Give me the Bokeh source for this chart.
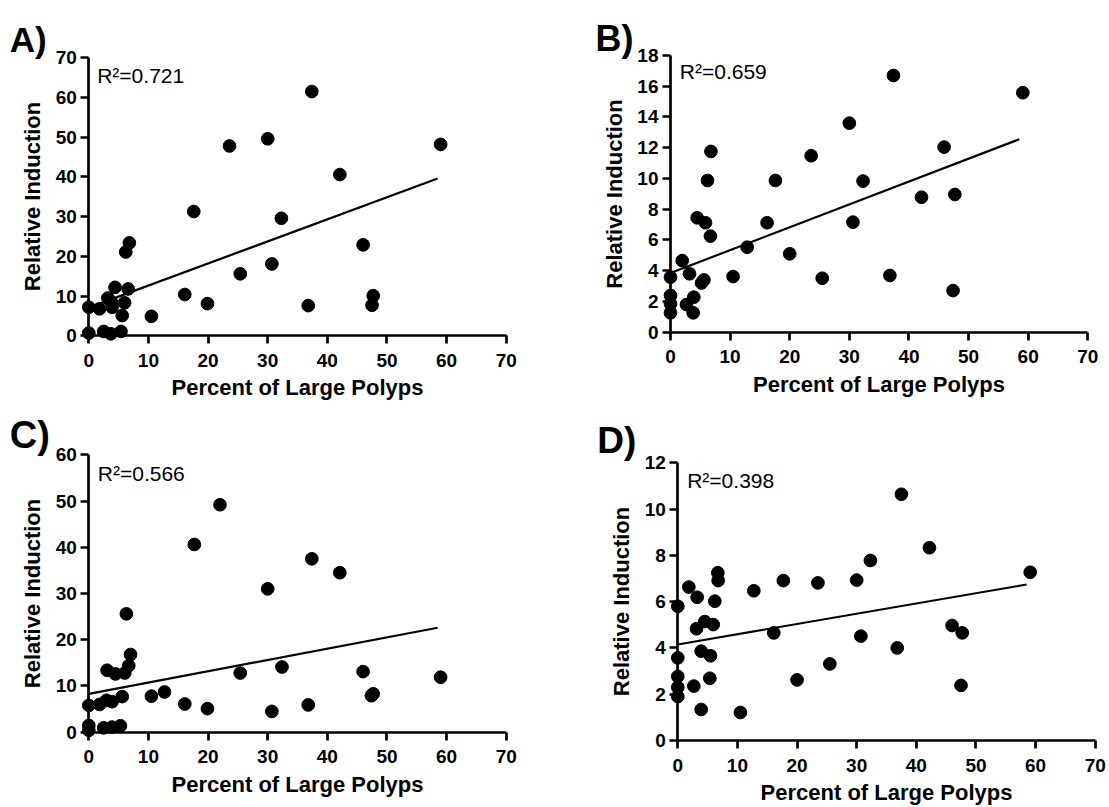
from bokeh.plotting import figure
from bokeh.layouts import column, row
from bokeh.models import Range1d, Label
from bokeh.embed import file_html
from bokeh.resources import INLINE

# ---------------- data ----------------
x_ticks = [0, 10, 20, 30, 40, 50, 60, 70]
x_title = "Percent of Large Polyps"
y_title = "Relative Induction"

# Panel A
a_x = [0, 0, 1.8, 3.2, 2.5, 3.8, 3.9, 3.7, 4.4, 5.4, 5.6, 6.0, 6.6, 6.2, 6.8, 10.5,
       16.1, 17.6, 19.9, 23.6, 25.4, 30.0, 30.7, 32.3, 37.4, 36.8, 42.1, 46.0, 47.7, 47.5, 59.0]
a_y = [7.2, 0.7, 6.8, 9.5, 1.1, 8.5, 7.2, 0.5, 12.2, 1.1, 5.1, 8.3, 11.8, 21.1, 23.4, 4.9,
       10.4, 31.3, 8.1, 47.8, 15.6, 49.6, 18.1, 29.6, 61.5, 7.6, 40.6, 22.9, 10.1, 7.7, 48.2]
a_fit_x = [0, 58.5]
a_fit_y = [7.1, 39.6]
a_y_ticks = [0, 10, 20, 30, 40, 50, 60, 70]
a_r2 = "R²=0.721"
a_letter = "A)"

# Panel B
b_x = [0, 0, 0, 0, 1.96, 2.68, 3.19, 3.91, 3.8, 4.47, 5.87, 5.2, 5.6, 6.21, 6.78, 6.7,
       10.5, 12.86, 16.2, 17.6, 20.0, 23.6, 25.45, 30.0, 30.6, 32.3, 36.8, 37.4, 42.1,
       45.9, 47.7, 47.4, 59.1]
b_y = [3.58, 2.39, 1.85, 1.26, 4.66, 1.80, 3.8, 2.28, 1.26, 7.44, 7.12, 3.2, 3.4, 9.87,
       11.76, 6.25, 3.62, 5.53, 7.12, 9.87, 5.1, 11.48, 3.51, 13.6, 7.16, 9.83, 3.69, 16.7,
       8.78, 12.04, 8.96, 2.71, 15.58]
b_fit_x = [0, 58.5]
b_fit_y = [3.85, 12.55]
b_y_ticks = [0, 2, 4, 6, 8, 10, 12, 14, 16, 18]
b_r2 = "R²=0.659"
b_letter = "B)"

# Panel C
c_x = [0, 0, 0, 1.8, 2.97, 3.07, 2.5, 3.9, 3.9, 4.47, 5.3, 5.6, 6.03, 6.3, 6.7, 7.0,
       10.5, 12.7, 16.1, 17.7, 19.9, 22.0, 25.4, 30.0, 30.7, 32.4, 37.4, 42.1, 36.8, 46.0,
       47.4, 47.7, 59.0]
c_y = [5.8, 1.45, 0.4, 6.0, 6.9, 13.4, 0.95, 6.6, 1.1, 12.6, 1.4, 7.7, 12.8, 25.6, 14.4,
       16.8, 7.8, 8.7, 6.1, 40.6, 5.1, 49.2, 12.8, 31.0, 4.5, 14.1, 37.5, 34.5, 5.9, 13.1,
       7.9, 8.3, 11.9]
c_fit_x = [0, 58.5]
c_fit_y = [8.3, 22.6]
c_y_ticks = [0, 10, 20, 30, 40, 50, 60]
c_r2 = "R²=0.566"
c_letter = "C)"

# Panel D
d_x = [0, 0, 0, 0, 0, 1.85, 3.25, 3.14, 2.69, 3.92, 3.92, 4.53, 5.49, 5.37, 5.94, 6.21,
       6.71, 6.77, 10.5, 12.75, 16.1, 17.7, 20.0, 23.5, 25.5, 30.0, 30.7, 32.3, 36.8, 37.5,
       42.2, 46.0, 47.7, 47.5, 59.1]
d_y = [5.8, 3.57, 2.77, 2.3, 1.9, 6.63, 6.19, 4.83, 2.35, 3.86, 1.34, 5.14, 3.66, 2.69,
       5.01, 6.02, 7.25, 6.91, 1.21, 6.47, 4.65, 6.91, 2.62, 6.81, 3.31, 6.93, 4.51, 7.78,
       4.0, 10.64, 8.33, 4.97, 4.65, 2.38, 7.27]
d_fit_x = [0, 58.5]
d_fit_y = [4.15, 6.74]
d_y_ticks = [0, 2, 4, 6, 8, 10, 12]
d_r2 = "R²=0.398"
d_letter = "D)"

FONT = "Liberation Sans"


def make_panel(xs, ys, fx, fy, yticks, r2, letter,
               fig_box, axis_px, letter_pos, letter_size, r2_pos):
    # the frame covers the whole canvas; axes are drawn at data 0 inside it
    fx0, fy0, fx1, fy1 = fig_box
    x0px, x70px, y0px, ytop_px = axis_px
    kx = (x70px - x0px) / x_ticks[-1]
    ky = (y0px - ytop_px) / yticks[-1]
    xr = Range1d((fx0 - x0px) / kx, (fx1 - x0px) / kx)
    yr = Range1d((y0px - fy1) / ky, (y0px - fy0) / ky)

    p = figure(width=fx1 - fx0, height=fy1 - fy0, x_range=xr, y_range=yr,
               min_border_left=0, min_border_right=0,
               min_border_top=0, min_border_bottom=0,
               output_backend="svg", toolbar_location=None)
    p.title.visible = False
    p.outline_line_color = None
    p.xgrid.visible = False
    p.ygrid.visible = False
    p.background_fill_color = "white"
    p.border_fill_color = "white"

    p.line(fx, fy, line_color="black", line_width=2.2)
    p.scatter(xs, ys, size=12.7, fill_color="black", line_color="black")

    p.xaxis.ticker = x_ticks
    p.yaxis.ticker = yticks
    p.xaxis.bounds = (0, x_ticks[-1])
    p.yaxis.bounds = (0, yticks[-1])
    p.xaxis.axis_label = x_title
    p.yaxis.axis_label = y_title
    for ax in (p.xaxis[0], p.yaxis[0]):
        ax.fixed_location = 0
        ax.axis_line_width = 2.7
        ax.axis_line_color = "black"
        ax.major_tick_line_width = 2.7
        ax.major_tick_line_color = "black"
        ax.major_tick_out = 8
        ax.major_tick_in = 0
        ax.minor_tick_out = 0
        ax.minor_tick_in = 0
        ax.major_label_text_font = FONT
        ax.major_label_text_font_size = "19px"
        ax.major_label_text_font_style = "bold"
        ax.major_label_text_color = "black"
        ax.axis_label_text_font = FONT
        ax.axis_label_text_font_size = "22px"
        ax.axis_label_text_font_style = "bold"
        ax.axis_label_text_color = "black"
    p.xaxis.major_label_standoff = 10
    p.yaxis.major_label_standoff = 4
    p.xaxis.axis_label_standoff = 5
    p.yaxis.axis_label_standoff = 7

    def dx(px):
        return (px - x0px) / kx

    def dy(py):
        return (y0px - py) / ky

    p.add_layout(Label(x=dx(letter_pos[0]), y=dy(letter_pos[1]), text=letter,
                       text_font=FONT, text_font_style="bold",
                       text_font_size=f"{letter_size}px", text_color="black",
                       text_baseline="alphabetic", text_align="left"))
    p.add_layout(Label(x=dx(r2_pos[0]), y=dy(r2_pos[1]), text=r2,
                       text_font=FONT, text_font_size="21px", text_color="black",
                       text_baseline="alphabetic", text_align="left"))
    return p


pA = make_panel(a_x, a_y, a_fit_x, a_fit_y, a_y_ticks, a_r2, a_letter,
                (0, 0, 560, 404), (88.3, 505.7, 335.3, 57.3),
                (9.3, 39.3), 35, (96.7, 75))
pB = make_panel(b_x, b_y, b_fit_x, b_fit_y, b_y_ticks, b_r2, b_letter,
                (560, 0, 1109, 404), (670, 1087.3, 331.7, 55),
                (595, 38.3), 36, (679.3, 71))
pC = make_panel(c_x, c_y, c_fit_x, c_fit_y, c_y_ticks, c_r2, c_letter,
                (0, 404, 560, 807), (88.3, 505.7, 731.7, 454.3),
                (9.3, 434.5), 38, (97.3, 472.7))
pD = make_panel(d_x, d_y, d_fit_x, d_fit_y, d_y_ticks, d_r2, d_letter,
                (560, 404, 1109, 807), (677.3, 1094.7, 740, 462.3),
                (596.7, 440), 37, (686.7, 480))

layout = column(row(pA, pB), row(pC, pD))
open("out.html", "w").write(file_html(layout, INLINE))
